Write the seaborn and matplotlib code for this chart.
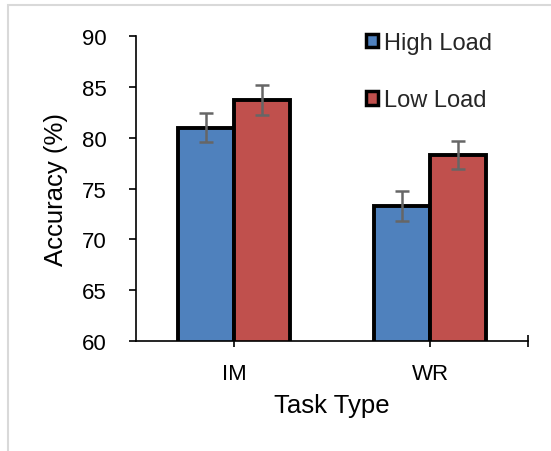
import matplotlib
matplotlib.use("Agg")
import matplotlib.pyplot as plt
import seaborn as sns
import pandas as pd
import numpy as np
from matplotlib.patches import Rectangle

task_types = ["IM", "WR"]
loads = ["High Load", "Low Load"]
high_load = [81.0, 73.3]
low_load = [83.7, 78.3]
high_err = [1.4, 1.45]
low_err = [1.45, 1.35]
colors = ["#4F81BD", "#C0504D"]

df = pd.DataFrame({
    "Task Type": task_types * 2,
    "Load": [loads[0]] * 2 + [loads[1]] * 2,
    "Accuracy": high_load + low_load,
    "Err": high_err + low_err,
})

sns.set_theme(style="white")
plt.rcParams["font.family"] = ["Liberation Sans", "DejaVu Sans"]

fig = plt.figure(figsize=(5.51, 4.52), dpi=100)
ax = fig.add_axes([136 / 551, 1 - 342 / 452, 392 / 551, 305 / 452])

sns.barplot(data=df, x="Task Type", y="Accuracy", hue="Load", order=task_types,
            hue_order=loads, palette=colors, width=0.571, errorbar=None,
            edgecolor="black", linewidth=2.8, saturation=1, ax=ax, legend=True)

# error bars at the bar centres
for cont, load in zip(ax.containers, loads):
    sub = df[df["Load"] == load].set_index("Task Type").loc[task_types]
    xs = [p.get_x() + p.get_width() / 2 for p in cont.patches]
    ax.errorbar(xs, sub["Accuracy"], yerr=sub["Err"], fmt="none",
                ecolor="#666666", elinewidth=1.8, capsize=4.7, capthick=1.8, zorder=5)

ax.set_ylim(60, 90)
ax.set_xlim(-0.5, 1.5)
ax.set_yticks(np.arange(60, 91, 5))
for s in ["top", "right"]:
    ax.spines[s].set_visible(False)
for s in ["left", "bottom"]:
    ax.spines[s].set_color("black")
    ax.spines[s].set_linewidth(1.2)

ax.tick_params(axis="y", which="major", direction="out", length=5, width=1.2,
               color="black", left=True, labelsize=16, pad=16, labelcolor="black")
ax.tick_params(axis="x", which="major", direction="out", length=4, width=1.2,
               color="black", bottom=True, labelsize=16, pad=12, labelcolor="black")
ax.set_xticks([1.5], minor=True)
ax.tick_params(axis="x", which="minor", direction="inout", length=8, width=1.2,
               color="black", bottom=True)

ax.set_xlabel("Task Type", fontsize=18.5, color="black")
ax.set_ylabel("Accuracy (%)", fontsize=18.5, color="black")
ax.xaxis.set_label_coords(0.5, -0.17)
ax.yaxis.set_label_coords(-0.173, 0.5)

handles, labels = ax.get_legend_handles_labels()
for h in handles:
    h.set_linewidth(2.5)
ax.legend(handles, labels, loc="upper left", bbox_to_anchor=(366 / 551, 1 - 33 / 452),
          bbox_transform=fig.transFigure, frameon=False, fontsize=17,
          handlelength=0.5, handleheight=0.5, handletextpad=0.25,
          labelspacing=1.5, borderpad=0, borderaxespad=0)

# light chart-area border
fig.patches.append(Rectangle((8 / 551, -0.05), 1.1, 1 - 6 / 452 + 0.05, transform=fig.transFigure,
                             fill=False, edgecolor="#D9D9D9", linewidth=1.5, zorder=0))

fig.savefig("out.png", dpi=100)
